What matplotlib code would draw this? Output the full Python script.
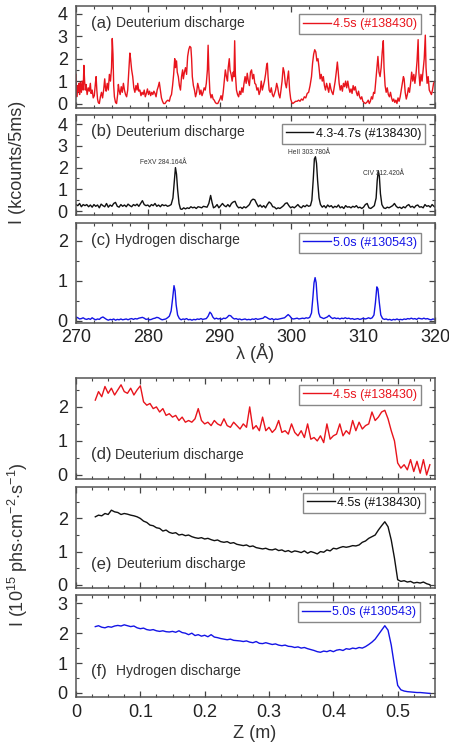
import numpy as np
import matplotlib; matplotlib.use("Agg")
import matplotlib.pyplot as plt
from matplotlib.ticker import MultipleLocator

plt.rcParams['font.family'] = ['Liberation Sans', 'DejaVu Sans']
plt.rcParams['mathtext.fontset'] = 'custom'
plt.rcParams['mathtext.rm'] = 'Liberation Sans'
plt.rcParams['mathtext.it'] = 'Liberation Sans:italic'

# ---------------- spectra (270-320 A) ----------------
a_wl = [270.00, 270.10, 270.20, 270.30, 270.40, 270.50, 270.60, 270.75, 270.85, 271.00,
        271.10, 271.20, 271.30, 271.40, 271.55, 271.70, 271.85, 272.00, 272.10, 272.25,
        272.40, 272.55, 272.70, 272.80, 272.90, 273.00, 273.10, 273.25, 273.40, 273.55,
        273.70, 273.85, 274.00, 274.10, 274.20, 274.35, 274.50, 274.65, 274.80, 274.95,
        275.05, 275.15, 275.25, 275.35, 275.50, 275.65, 275.80, 275.90, 276.00, 276.15,
        276.30, 276.45, 276.60, 276.75, 276.90, 277.05, 277.20, 277.35, 277.50, 277.60,
        277.75, 277.90, 278.05, 278.20, 278.35, 278.50, 278.60, 278.75, 278.90, 279.05,
        279.20, 279.35, 279.50, 279.65, 279.80, 279.95, 280.10, 280.25, 280.40, 280.55,
        280.70, 280.85, 281.00, 281.15, 281.30, 281.45, 281.60, 281.75, 281.90, 282.05,
        282.20, 282.40, 282.60, 282.80, 283.00, 283.15, 283.30, 283.45, 283.60, 283.75,
        283.85, 284.00, 284.10, 284.25, 284.40, 284.55, 284.70, 284.85, 284.95, 285.10,
        285.25, 285.40, 285.55, 285.70, 285.85, 286.00, 286.10, 286.20, 286.35, 286.50,
        286.65, 286.80, 286.95, 287.10, 287.25, 287.40, 287.55, 287.70, 287.85, 288.00,
        288.15, 288.30, 288.40, 288.50, 288.65, 288.80, 288.95, 289.10, 289.25, 289.40,
        289.55, 289.75, 289.90, 290.05, 290.20, 290.35, 290.50, 290.65, 290.80, 290.95,
        291.10, 291.20, 291.35, 291.45, 291.60, 291.75, 291.90, 292.00, 292.10, 292.20,
        292.35, 292.50, 292.65, 292.80, 292.95, 293.10, 293.25, 293.40, 293.55, 293.70,
        293.85, 294.00, 294.15, 294.30, 294.45, 294.60, 294.75, 294.90, 295.05, 295.20,
        295.35, 295.50, 295.65, 295.80, 295.95, 296.10, 296.25, 296.40, 296.55, 296.65,
        296.75, 296.90, 297.05, 297.20, 297.35, 297.50, 297.65, 297.80, 297.95, 298.10,
        298.25, 298.40, 298.55, 298.70, 298.85, 299.00, 299.15, 299.30, 299.45, 299.60,
        299.75, 299.90, 300.05, 300.20, 300.40, 300.60, 300.80, 301.00, 301.20, 301.40,
        301.60, 301.80, 302.00, 302.20, 302.40, 302.60, 302.80, 302.95, 303.10, 303.25,
        303.40, 303.55, 303.70, 303.85, 304.00, 304.15, 304.30, 304.45, 304.60, 304.75,
        304.90, 305.05, 305.20, 305.35, 305.50, 305.65, 305.80, 305.95, 306.10, 306.25,
        306.40, 306.50, 306.65, 306.80, 306.95, 307.10, 307.25, 307.40, 307.55, 307.70,
        307.85, 308.00, 308.15, 308.30, 308.45, 308.60, 308.75, 308.90, 309.05, 309.20,
        309.35, 309.50, 309.65, 309.80, 309.95, 310.10, 310.30, 310.50, 310.70, 310.85,
        311.00, 311.15, 311.30, 311.45, 311.60, 311.75, 311.90, 312.05, 312.20, 312.35,
        312.50, 312.65, 312.80, 312.90, 313.05, 313.20, 313.35, 313.50, 313.65, 313.80,
        313.95, 314.10, 314.25, 314.40, 314.55, 314.70, 314.85, 315.00, 315.15, 315.30,
        315.45, 315.60, 315.70, 315.85, 316.00, 316.15, 316.30, 316.45, 316.60, 316.75,
        316.90, 317.05, 317.20, 317.35, 317.50, 317.65, 317.75, 317.90, 318.05, 318.20,
        318.35, 318.50, 318.65, 318.75, 318.90, 319.05, 319.20, 319.35, 319.50, 319.65,
        319.80, 320.00]
a_int = [1.30, 0.30, 0.80, 0.55, 0.90, 0.40, 0.95, 0.50, 1.00, 0.60,
         1.70, 1.00, 0.60, 0.85, 0.40, 0.70, 0.55, 0.90, 0.45, 0.60,
         0.25, 0.35, 0.90, 1.20, 0.60, 0.20, 0.05, 0.00, 0.30, 0.50,
         0.25, 0.60, 1.10, 0.70, 0.55, 0.90, 0.60, 1.30, 1.00, 1.60,
         2.90, 2.20, 0.80, 0.30, 0.05, 0.00, 0.40, 0.85, 0.60, 0.40,
         0.75, 0.50, 0.90, 0.60, 0.40, 0.30, 0.60, 1.40, 2.25, 2.00,
         1.50, 1.20, 0.70, 0.50, 0.80, 0.60, 0.90, 0.55, 0.60, 0.35,
         0.50, 0.40, 0.60, 0.30, 0.45, 0.65, 0.40, 0.55, 0.35, 0.50,
         0.40, 0.55, 0.45, 0.30, 0.60, 0.75, 0.95, 0.60, 0.25, 0.10,
         0.00, 0.00, 0.10, 0.15, 0.10, 0.30, 0.40, 0.80, 1.30, 2.00,
         1.60, 1.90, 1.40, 1.20, 0.80, 0.60, 1.20, 1.50, 1.10, 1.40,
         1.60, 1.30, 2.10, 2.40, 2.55, 2.50, 2.00, 1.20, 0.80, 0.60,
         0.30, 0.50, 0.90, 0.70, 0.40, 0.60, 0.35, 0.50, 0.70, 0.60,
         0.90, 1.50, 2.60, 1.50, 0.50, 0.25, 0.40, 0.20, 0.15, 0.05,
         0.00, 0.00, 0.10, 0.20, 0.35, 0.15, 0.50, 1.00, 1.50, 1.20,
         1.00, 1.60, 2.00, 1.50, 1.30, 1.00, 1.40, 1.20, 2.80, 1.30,
         0.60, 0.40, 0.30, 0.55, 0.40, 0.70, 0.50, 0.90, 1.20, 0.90,
         1.35, 1.00, 0.80, 1.40, 1.50, 1.10, 1.30, 0.90, 0.85, 0.60,
         0.70, 0.40, 0.55, 1.00, 0.60, 0.80, 1.00, 1.30, 1.70, 1.80,
         1.20, 0.60, 0.50, 0.70, 0.40, 0.30, 0.45, 0.60, 0.90, 0.70,
         0.40, 0.25, 0.60, 1.00, 1.60, 1.40, 0.90, 0.70, 1.10, 1.45,
         0.60, 0.20, 0.05, 0.00, 0.05, 0.10, 0.10, 0.15, 0.10, 0.20,
         0.15, 0.30, 0.25, 0.45, 0.50, 0.80, 1.20, 1.80, 2.20, 2.40,
         2.30, 1.90, 2.00, 1.60, 1.10, 1.30, 1.00, 1.20, 0.80, 0.60,
         0.90, 0.70, 0.50, 0.90, 0.65, 0.50, 0.40, 0.70, 1.00, 1.40,
         1.85, 1.50, 0.90, 0.60, 0.80, 0.55, 0.90, 0.75, 1.00, 0.70,
         1.00, 0.70, 0.50, 0.65, 0.45, 0.80, 0.60, 0.75, 0.50, 0.35,
         0.55, 0.30, 0.20, 0.30, 0.10, 0.05, 0.00, 0.05, 0.15, 0.00,
         0.10, 0.30, 0.20, 0.50, 0.45, 1.00, 1.60, 2.10, 1.40, 1.20,
         1.60, 2.30, 2.80, 1.60, 0.80, 0.50, 0.70, 0.40, 0.30, 0.50,
         0.25, 0.10, 0.20, 0.05, 0.15, 0.00, 0.25, 0.10, 0.30, 0.60,
         0.90, 1.20, 1.10, 0.50, 0.20, 0.40, 0.70, 0.50, 0.90, 1.40,
         1.00, 1.30, 0.90, 1.30, 1.90, 2.85, 1.40, 0.80, 1.30, 1.00,
         1.50, 2.00, 3.05, 1.60, 0.90, 1.20, 0.60, 0.50, 0.40, 0.60,
         0.90, 1.00]

b_wl = [270.00, 270.25, 270.50, 270.75, 271.00, 271.25, 271.50, 271.75, 272.00, 272.25,
        272.50, 272.75, 273.00, 273.25, 273.50, 273.75, 274.00, 274.25, 274.50, 274.75,
        275.00, 275.25, 275.50, 275.75, 276.00, 276.25, 276.50, 276.75, 277.00, 277.25,
        277.50, 277.75, 278.00, 278.25, 278.50, 278.75, 279.00, 279.25, 279.50, 279.75,
        280.00, 280.25, 280.50, 280.75, 281.00, 281.25, 281.50, 281.75, 282.00, 282.25,
        282.50, 282.75, 283.00, 283.25, 283.50, 283.70, 283.85, 284.00, 284.15, 284.35,
        284.55, 284.75, 285.00, 285.25, 285.50, 285.75, 286.00, 286.25, 286.50, 286.75,
        287.00, 287.25, 287.50, 287.75, 288.00, 288.25, 288.50, 288.75, 288.95, 289.15,
        289.40, 289.65, 289.90, 290.15, 290.40, 290.65, 290.90, 291.15, 291.40, 291.65,
        291.90, 292.15, 292.40, 292.65, 292.90, 293.15, 293.40, 293.65, 293.90, 294.15,
        294.40, 294.65, 294.90, 295.15, 295.40, 295.65, 295.90, 296.15, 296.40, 296.65,
        296.90, 297.15, 297.40, 297.65, 297.90, 298.15, 298.40, 298.65, 298.90, 299.15,
        299.40, 299.65, 299.90, 300.15, 300.40, 300.65, 300.90, 301.15, 301.40, 301.65,
        301.90, 302.15, 302.40, 302.65, 302.85, 303.05, 303.20, 303.35, 303.50, 303.65,
        303.85, 304.05, 304.30, 304.55, 304.80, 305.05, 305.30, 305.55, 305.80, 306.05,
        306.30, 306.55, 306.80, 307.05, 307.30, 307.55, 307.80, 308.05, 308.30, 308.55,
        308.80, 309.05, 309.30, 309.55, 309.80, 310.05, 310.30, 310.55, 310.80, 311.05,
        311.30, 311.55, 311.80, 311.95, 312.10, 312.25, 312.40, 312.60, 312.85, 313.10,
        313.35, 313.60, 313.85, 314.10, 314.35, 314.60, 314.85, 315.10, 315.35, 315.60,
        315.85, 316.10, 316.35, 316.60, 316.85, 317.10, 317.35, 317.60, 317.85, 318.10,
        318.35, 318.60, 318.85, 319.10, 319.35, 319.60, 319.85, 320.00]
b_int = [0.30, 0.25, 0.35, 0.20, 0.30, 0.25, 0.30, 0.20, 0.28, 0.18,
         0.30, 0.22, 0.28, 0.15, 0.32, 0.25, 0.20, 0.35, 0.18, 0.28,
         0.22, 0.35, 0.40, 0.22, 0.18, 0.30, 0.22, 0.28, 0.20, 0.32,
         0.25, 0.20, 0.30, 0.25, 0.32, 0.22, 0.35, 0.48, 0.30, 0.25,
         0.28, 0.20, 0.30, 0.25, 0.35, 0.22, 0.28, 0.20, 0.30, 0.25,
         0.28, 0.22, 0.25, 0.30, 0.60, 1.40, 2.00, 1.70, 1.00, 0.35,
         0.10, 0.08, 0.15, 0.10, 0.15, 0.12, 0.20, 0.15, 0.18, 0.12,
         0.20, 0.18, 0.15, 0.22, 0.20, 0.18, 0.35, 0.72, 0.40, 0.15,
         0.20, 0.30, 0.15, 0.25, 0.35, 0.25, 0.20, 0.30, 0.20, 0.35,
         0.42, 0.45, 0.25, 0.15, 0.18, 0.12, 0.20, 0.15, 0.22, 0.30,
         0.48, 0.55, 0.52, 0.35, 0.20, 0.28, 0.18, 0.25, 0.15, 0.30,
         0.42, 0.35, 0.20, 0.18, 0.10, 0.15, 0.12, 0.18, 0.25, 0.35,
         0.38, 0.25, 0.15, 0.20, 0.15, 0.22, 0.30, 0.20, 0.15, 0.25,
         0.20, 0.28, 0.22, 0.25, 0.50, 1.50, 2.40, 2.50, 2.20, 1.40,
         0.60, 0.30, 0.18, 0.25, 0.15, 0.28, 0.20, 0.25, 0.15, 0.22,
         0.18, 0.28, 0.15, 0.20, 0.12, 0.25, 0.18, 0.20, 0.15, 0.22,
         0.18, 0.25, 0.15, 0.18, 0.12, 0.18, 0.30, 0.35, 0.15, 0.12,
         0.18, 0.25, 0.60, 1.40, 1.85, 1.60, 0.80, 0.30, 0.15, 0.12,
         0.18, 0.15, 0.20, 0.25, 0.35, 0.22, 0.15, 0.18, 0.12, 0.20,
         0.15, 0.25, 0.30, 0.18, 0.22, 0.15, 0.25, 0.28, 0.18, 0.20,
         0.15, 0.30, 0.22, 0.25, 0.18, 0.30, 0.22, 0.18]

c_wl = [270.00, 270.25, 270.50, 270.75, 271.00, 271.25, 271.50, 271.75, 272.00, 272.25,
        272.50, 272.75, 273.00, 273.25, 273.50, 273.75, 274.00, 274.25, 274.50, 274.75,
        275.00, 275.25, 275.50, 275.75, 276.00, 276.25, 276.50, 276.75, 277.00, 277.25,
        277.50, 277.75, 278.00, 278.25, 278.50, 278.75, 279.00, 279.25, 279.50, 279.75,
        280.00, 280.25, 280.50, 280.75, 281.00, 281.25, 281.50, 281.75, 282.00, 282.25,
        282.50, 282.75, 283.00, 283.25, 283.45, 283.65, 283.80, 283.95, 284.15, 284.40,
        284.65, 284.90, 285.15, 285.40, 285.65, 285.90, 286.15, 286.40, 286.65, 286.90,
        287.15, 287.40, 287.65, 287.90, 288.15, 288.40, 288.65, 288.85, 289.05, 289.30,
        289.55, 289.80, 290.05, 290.30, 290.55, 290.80, 291.05, 291.30, 291.55, 291.80,
        292.05, 292.30, 292.55, 292.80, 293.05, 293.30, 293.55, 293.80, 294.05, 294.30,
        294.55, 294.80, 295.05, 295.30, 295.55, 295.80, 296.05, 296.30, 296.55, 296.80,
        297.05, 297.30, 297.55, 297.80, 298.05, 298.30, 298.55, 298.80, 299.05, 299.30,
        299.55, 299.80, 300.05, 300.30, 300.55, 300.80, 301.05, 301.30, 301.55, 301.80,
        302.05, 302.30, 302.55, 302.80, 303.00, 303.15, 303.30, 303.45, 303.60, 303.80,
        304.00, 304.25, 304.50, 304.75, 305.00, 305.25, 305.50, 305.75, 306.00, 306.25,
        306.50, 306.75, 307.00, 307.25, 307.50, 307.75, 308.00, 308.25, 308.50, 308.75,
        309.00, 309.25, 309.50, 309.75, 310.00, 310.25, 310.50, 310.75, 311.00, 311.25,
        311.50, 311.70, 311.90, 312.05, 312.25, 312.45, 312.70, 312.95, 313.20, 313.45,
        313.70, 313.95, 314.20, 314.45, 314.70, 314.95, 315.20, 315.45, 315.70, 315.95,
        316.20, 316.45, 316.70, 316.95, 317.20, 317.45, 317.70, 317.95, 318.20, 318.45,
        318.70, 318.95, 319.20, 319.45, 319.70, 320.00]
c_int = [0.10, 0.08, 0.05, 0.06, 0.08, 0.05, 0.04, 0.06, 0.04, 0.08,
         0.05, 0.03, 0.05, 0.04, 0.08, 0.10, 0.07, 0.04, 0.02, 0.04,
         0.03, 0.05, 0.02, 0.04, 0.03, 0.05, 0.03, 0.04, 0.05, 0.03,
         0.05, 0.06, 0.04, 0.06, 0.05, 0.07, 0.08, 0.09, 0.07, 0.04,
         0.05, 0.03, 0.04, 0.06, 0.07, 0.09, 0.08, 0.05, 0.03, 0.04,
         0.05, 0.08, 0.12, 0.25, 0.55, 0.88, 0.75, 0.40, 0.15, 0.06,
         0.03, 0.05, 0.04, 0.06, 0.03, 0.04, 0.02, 0.04, 0.03, 0.05,
         0.04, 0.06, 0.04, 0.05, 0.06, 0.12, 0.22, 0.18, 0.10, 0.05,
         0.07, 0.05, 0.06, 0.04, 0.07, 0.06, 0.09, 0.14, 0.13, 0.08,
         0.05, 0.06, 0.04, 0.05, 0.03, 0.04, 0.05, 0.03, 0.04, 0.03,
         0.05, 0.04, 0.06, 0.04, 0.05, 0.06, 0.07, 0.11, 0.09, 0.06,
         0.04, 0.06, 0.03, 0.05, 0.04, 0.05, 0.06, 0.07, 0.08, 0.12,
         0.16, 0.12, 0.06, 0.05, 0.06, 0.07, 0.05, 0.06, 0.07, 0.06,
         0.08, 0.07, 0.09, 0.20, 0.60, 0.95, 1.08, 0.95, 0.55, 0.20,
         0.10, 0.08, 0.06, 0.08, 0.10, 0.14, 0.09, 0.06, 0.08, 0.06,
         0.07, 0.05, 0.07, 0.06, 0.08, 0.06, 0.07, 0.05, 0.06, 0.04,
         0.05, 0.06, 0.04, 0.05, 0.07, 0.05, 0.06, 0.08, 0.06, 0.08,
         0.15, 0.45, 0.85, 0.80, 0.45, 0.15, 0.06, 0.04, 0.05, 0.03,
         0.04, 0.02, 0.04, 0.03, 0.05, 0.03, 0.04, 0.03, 0.05, 0.04,
         0.06, 0.05, 0.07, 0.05, 0.06, 0.04, 0.07, 0.06, 0.05, 0.07,
         0.05, 0.06, 0.04, 0.03, 0.05, 0.04]

lines_lbl = ["FeXV 284.164\u00c5", "HeII 303.780\u00c5", "CIV 312.420\u00c5"]
lines_pos = [(282.1, 2.25), (302.5, 2.7), (312.8, 1.75)]

# ---------------- radial profiles ----------------
z_start, z_step = 0.03, 0.005
d_int = [2.20, 2.45, 2.30, 2.60, 2.40, 2.55, 2.35, 2.50, 2.65, 2.45,
         2.40, 2.55, 2.35, 2.50, 2.62, 2.15, 2.05, 2.10, 1.95, 2.00,
         1.85, 1.95, 1.75, 1.80, 1.70, 1.75, 1.60, 1.70, 1.55, 1.60,
         1.55, 1.65, 1.95, 1.60, 1.50, 1.55, 1.45, 1.60, 1.50, 1.45,
         1.65, 1.45, 1.40, 1.55, 1.45, 1.35, 1.50, 1.40, 2.00, 1.35,
         1.45, 1.30, 1.70, 1.30, 1.40, 1.25, 1.35, 1.60, 1.25, 1.30,
         1.20, 1.50, 1.25, 1.15, 1.30, 1.10, 1.50, 1.05, 1.10, 1.00,
         1.15, 0.95, 1.50, 1.05, 1.15, 1.20, 1.50, 1.15, 1.30, 1.20,
         1.60, 1.30, 1.55, 1.35, 1.45, 1.50, 1.85, 1.60, 1.70, 1.85,
         1.90, 1.65, 1.30, 1.00, 0.35, 0.20, 0.30, 0.15, 0.45, 0.10,
         0.40, 0.05, 0.45, 0.00, 0.30]
e_int = [2.05, 2.10, 2.08, 2.15, 2.12, 2.25, 2.20, 2.18, 2.12, 2.15,
         2.13, 2.10, 2.08, 2.05, 2.00, 1.92, 1.88, 1.80, 1.78, 1.72,
         1.70, 1.62, 1.65, 1.58, 1.55, 1.57, 1.50, 1.52, 1.48, 1.50,
         1.45, 1.42, 1.40, 1.42, 1.38, 1.40, 1.36, 1.33, 1.35, 1.30,
         1.28, 1.30, 1.25, 1.27, 1.22, 1.20, 1.18, 1.20, 1.15, 1.17,
         1.12, 1.10, 1.08, 1.10, 1.06, 1.05, 1.08, 1.03, 1.05, 1.00,
         1.03, 0.98, 1.02, 1.00, 0.97, 1.02, 0.95, 1.00, 0.97, 0.93,
         1.00, 0.98, 1.05, 1.02, 1.10, 1.08, 1.12, 1.15, 1.13, 1.15,
         1.18, 1.17, 1.20, 1.28, 1.32, 1.40, 1.45, 1.50, 1.65, 1.78,
         1.90, 1.75, 1.35, 0.80, 0.15, 0.10, 0.12, 0.08, 0.10, 0.05,
         0.07, 0.05, 0.08, 0.03, 0.00]
f_int = [2.22, 2.25, 2.20, 2.18, 2.22, 2.20, 2.24, 2.26, 2.24, 2.28,
         2.25, 2.22, 2.24, 2.18, 2.15, 2.17, 2.12, 2.10, 2.12, 2.08,
         2.06, 2.08, 2.05, 2.04, 2.06, 2.03, 2.08, 2.02, 2.00, 1.95,
         2.00, 1.92, 1.95, 1.90, 1.93, 1.88, 1.95, 1.87, 1.85, 1.82,
         1.80, 1.78, 1.80, 1.76, 1.75, 1.74, 1.72, 1.74, 1.70, 1.68,
         1.72, 1.66, 1.65, 1.68, 1.65, 1.62, 1.64, 1.60, 1.58, 1.60,
         1.56, 1.55, 1.52, 1.54, 1.50, 1.52, 1.48, 1.45, 1.42, 1.38,
         1.36, 1.40, 1.38, 1.42, 1.38, 1.43, 1.45, 1.42, 1.48, 1.46,
         1.50, 1.48, 1.52, 1.50, 1.55, 1.62, 1.70, 1.80, 1.95, 2.10,
         2.25, 2.10, 1.60, 0.90, 0.25, 0.10, 0.06, 0.04, 0.03, 0.02,
         0.01, 0.01, 0.00, -0.01, -0.02]

RED, BLACK, BLUE = "#e8141c", "#111111", "#1414e6"
TXT = "#333333"

fig = plt.figure(figsize=(4.49, 7.44), dpi=100)
W, H = 449.0, 744.0

def make_ax(top, bot, left=76, right=435):
    return fig.add_axes([left/W, 1-bot/H, (right-left)/W, (bot-top)/H])

def style(ax, ymaj, ymin_):
    for s in ax.spines.values():
        s.set_color("#555555"); s.set_linewidth(1.1)
    ax.tick_params(which="both", direction="in", top=True, right=True,
                   colors="#444444", labelcolor="#222222", labelsize=13)
    ax.tick_params(which="major", length=4, width=0.9)
    ax.tick_params(which="minor", length=2, width=0.8)
    ax.tick_params(axis="y", pad=6)
    ax.yaxis.set_major_locator(MultipleLocator(ymaj))
    ax.yaxis.set_minor_locator(MultipleLocator(ymin_))

def legend(ax, ln, lbl, x, y):
    lg = ax.legend([ln], [lbl], loc="upper right", bbox_to_anchor=(x, y),
                   borderaxespad=0, fancybox=False, edgecolor="#888888",
                   framealpha=1, fontsize=9, handlelength=2.2,
                   handletextpad=0.2, borderpad=0.3, labelcolor="linecolor")
    lg.get_frame().set_linewidth(1.0)

def tag(ax, letter, name, y, x2=0.112):
    ax.text(0.042, y, letter, transform=ax.transAxes, fontsize=12,
            color=TXT, va="center", ha="left")
    ax.text(x2, y, name, transform=ax.transAxes, fontsize=10,
            color=TXT, va="center", ha="left")

# top group
ax_a = make_ax(6, 108)
ax_b = make_ax(115, 215)
ax_c = make_ax(223, 323)
for ax, (lo, hi), ym in [(ax_a, (-0.2, 4.35), 1), (ax_b, (-0.18, 4.42), 1),
                         (ax_c, (-0.05, 2.44), 1)]:
    style(ax, ym, 0.5)
    ax.set_xlim(270, 320)
    ax.set_ylim(lo, hi)
    ax.xaxis.set_major_locator(MultipleLocator(10))
    ax.xaxis.set_minor_locator(MultipleLocator(2.5))
ax_a.tick_params(labelbottom=False)
ax_b.tick_params(labelbottom=False)
ax_c.tick_params(axis="x", pad=4.5)

ln, = ax_a.plot(a_wl, a_int, color=RED, lw=1.0)
legend(ax_a, ln, "4.5s (#138430)", 0.961, 0.92)
tag(ax_a, "(a)", "Deuterium discharge", 0.83)

ln, = ax_b.plot(b_wl, b_int, color=BLACK, lw=1.0)
legend(ax_b, ln, "4.3-4.7s (#138430)", 0.972, 0.91)
tag(ax_b, "(b)", "Deuterium discharge", 0.833)
for lbl, (x, y) in zip(lines_lbl, lines_pos):
    ax_b.text(x, y, lbl, fontsize=4.8, color=TXT, ha="center", va="center")

ln, = ax_c.plot(c_wl, c_int, color=BLUE, lw=1.0)
legend(ax_c, ln, "5.0s (#130543)", 0.961, 0.90)
tag(ax_c, "(c)", "Hydrogen discharge", 0.83, x2=0.108)

# bottom group
z = np.round(z_start + z_step*np.arange(len(d_int)), 4)
ax_d = make_ax(378, 479)
ax_e = make_ax(487, 588)
ax_f = make_ax(595, 697)
for ax, (lo, hi) in [(ax_d, (-0.12, 2.85)), (ax_e, (-0.1, 2.95)),
                     (ax_f, (-0.14, 3.28))]:
    style(ax, 1, 0.5)
    ax.set_xlim(0, 0.558)
    ax.set_ylim(lo, hi)
    ax.xaxis.set_major_locator(MultipleLocator(0.1))
    ax.xaxis.set_minor_locator(MultipleLocator(0.025))
ax_d.tick_params(labelbottom=False)
ax_e.tick_params(labelbottom=False)
ax_f.tick_params(axis="x", pad=5)
ax_f.xaxis.set_major_formatter(plt.FuncFormatter(lambda v, p: "0" if v == 0 else f"{v:.1f}"))

ln, = ax_d.plot(z, d_int, color=RED, lw=1.0)
legend(ax_d, ln, "4.5s (#138430)", 0.961, 0.93)
tag(ax_d, "(d)", "Deuterium discharge", 0.24, x2=0.108)

ln, = ax_e.plot(z, e_int, color=BLACK, lw=1.0)
legend(ax_e, ln, "4.5s (#138430)", 0.972, 0.94)
tag(ax_e, "(e)", "Deuterium discharge", 0.235, x2=0.113)

ln, = ax_f.plot(z, f_int, color=BLUE, lw=1.0)
legend(ax_f, ln, "5.0s (#130543)", 0.958, 0.93)
tag(ax_f, "(f)", "Hydrogen discharge", 0.25, x2=0.112)

fig.text(255/W, 1-353/H, "\u03bb (\u00c5)", fontsize=13, color=TXT, ha="center", va="center")
fig.text(255/W, 1-733/H, "Z (m)", fontsize=13, color=TXT, ha="center", va="center")
fig.text(18/W, 1-162/H, "I (kcounts/5ms)", fontsize=13, color=TXT,
         rotation=90, ha="center", va="center")
fig.text(18/W, 1-545/H, r"I (10$^{15}$ phs$\cdot$cm$^{-2}$$\cdot$s$^{-1}$)", fontsize=13,
         color=TXT, rotation=90, ha="center", va="center")

fig.savefig("out.png", dpi=100, facecolor="white")
